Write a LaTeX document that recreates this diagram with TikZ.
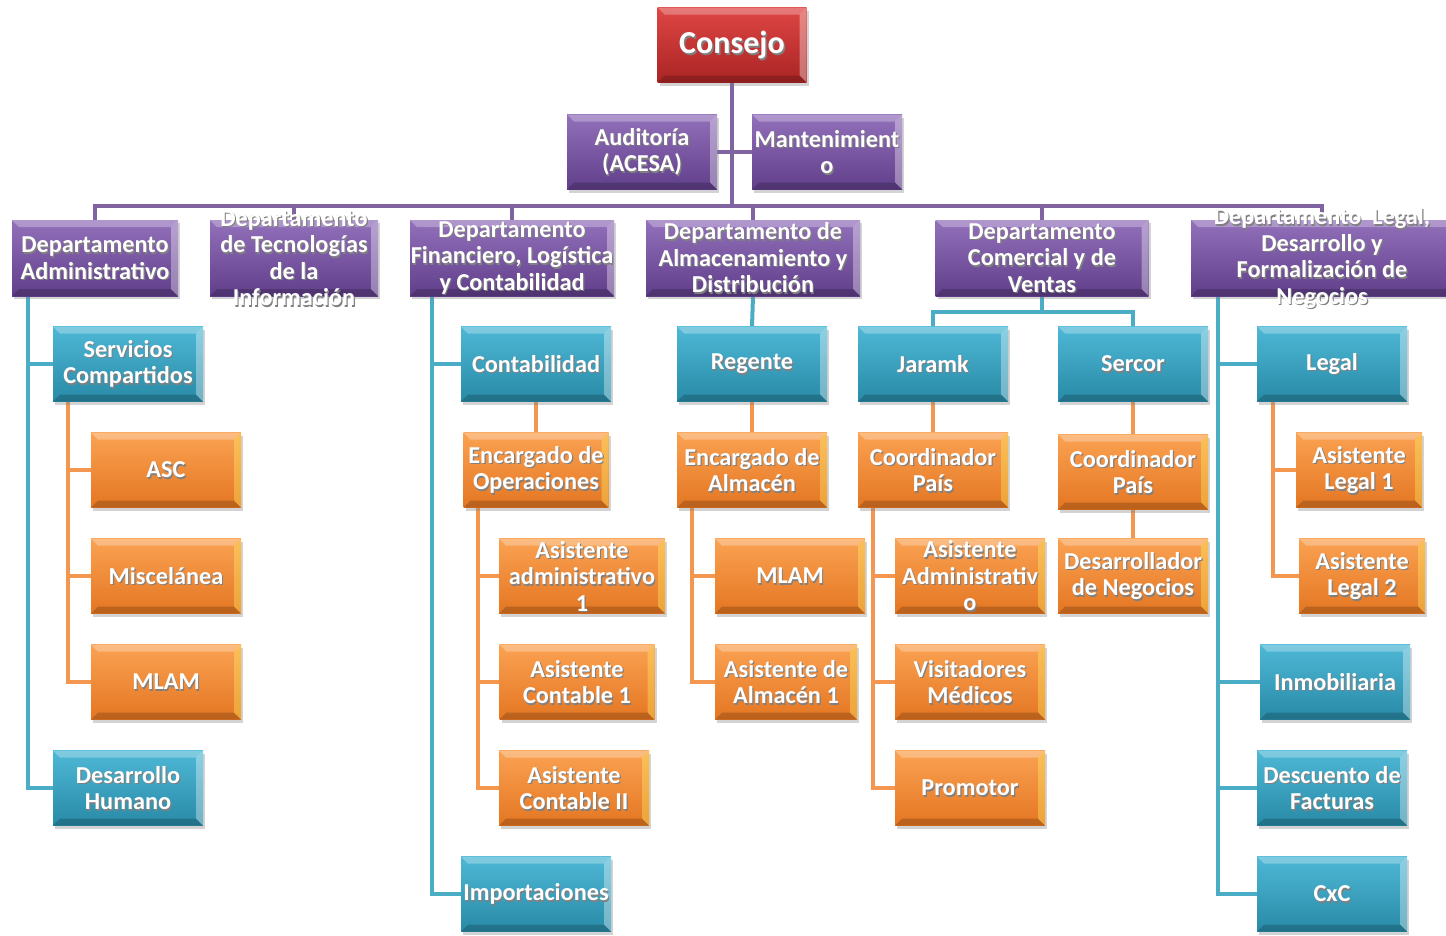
\documentclass[tikz,border=0pt]{standalone}
\usepackage{fontspec}
\setmainfont{Carlito}
\usetikzlibrary{shadows, positioning}
\pgfdeclarelayer{background}
\pgfsetlayers{background,main}
\definecolor{redtop}{RGB}{222, 70, 68}
\definecolor{redbot}{RGB}{170, 36, 36}
\definecolor{purtop}{RGB}{146, 112, 186}
\definecolor{purbot}{RGB}{96, 62, 138}
\definecolor{purline}{RGB}{128, 100, 162}
\definecolor{teatop}{RGB}{78, 184, 214}
\definecolor{teabot}{RGB}{40, 138, 166}
\definecolor{tealine}{RGB}{75, 172, 198}
\definecolor{orntop}{RGB}{250, 162, 82}
\definecolor{ornbot}{RGB}{228, 118, 34}
\definecolor{ornline}{RGB}{242, 150, 80}

\tikzset{
  bevel/.style={path picture={
    \fill[white, opacity=.28] (path picture bounding box.north west) -- (path picture bounding box.north east)
      -- ([shift={(-7pt,-7pt)}]path picture bounding box.north east) -- ([shift={(7pt,-7pt)}]path picture bounding box.north west) -- cycle;
    \fill[#1, opacity=.35] (path picture bounding box.north east) -- (path picture bounding box.south east)
      -- ([shift={(-7pt,7pt)}]path picture bounding box.south east) -- ([shift={(-7pt,-7pt)}]path picture bounding box.north east) -- cycle;
    \fill[black, opacity=.18] (path picture bounding box.south west) -- (path picture bounding box.south east)
      -- ([shift={(-7pt,7pt)}]path picture bounding box.south east) -- ([shift={(7pt,7pt)}]path picture bounding box.south west) -- cycle;
  }},
  unit/.style={rectangle, inner sep=0pt, minimum width=150pt, minimum height=75pt,
    drop shadow={shadow xshift=2pt, shadow yshift=-3pt, opacity=.35}},
  redbox/.style={unit, bevel=white, top color=redtop, bottom color=redbot},
  purbox/.style={unit, bevel=white, top color=purtop, bottom color=purbot},
  teabox/.style={unit, bevel=white, top color=teatop, bottom color=teabot},
  ornbox/.style={unit, bevel=yellow!60!white, top color=orntop, bottom color=ornbot},
  lbl/.style={text=white, align=center, inner sep=0pt, font=\bfseries\fontsize{24.3}{26.5}\selectfont},
  txt/.style={label={[lbl, text=black!50, xshift=1.2pt, yshift=-1.5pt]center:#1}, label={[lbl]center:#1}},
  plink/.style={draw=purline, line width=4pt},
  tlink/.style={draw=tealine, line width=4pt},
  olink/.style={draw=ornline, line width=4pt}
}

\begin{document}
\begin{tikzpicture}[x=1pt, y=-1pt]
  \useasboundingbox (0,0) rectangle (1446,935);

  % top of the chart
  \node[redbox, minimum width=149pt,
    label={[lbl, text=black!50, xshift=1.5pt, yshift=-2pt, font=\bfseries\fontsize{32}{36}\selectfont]center:Consejo},
    label={[lbl, font=\bfseries\fontsize{32}{36}\selectfont]center:Consejo}] (consejo) at (732,45) {};
  \node[purbox, txt={Auditoría\\(ACESA)}] (aud) at (642,152) {};
  \node[purbox, txt={Mantenimient\\o}] (mant) at (827,152) {};

  % departments
  \node[purbox, minimum width=166pt, minimum height=76pt, txt={Departamento\\Administrativo}] (admin) at (95,258) {};
  \node[purbox, minimum width=168pt, minimum height=76pt, txt={Departamento\\de Tecnologías\\de la\\Información}] (tec) at (294,258) {};
  \node[purbox, minimum width=204pt, minimum height=76pt, txt={Departamento\\Financiero, Logística\\y Contabilidad}] (fin) at (512,258) {};
  \node[purbox, minimum width=214pt, minimum height=76pt, txt={Departamento de\\Almacenamiento y\\Distribución}] (alm) at (753,258) {};
  \node[purbox, minimum width=213pt, minimum height=76pt, txt={Departamento\\Comercial y de\\Ventas}] (com) at (1042,258) {};
  \node[purbox, minimum width=262pt, minimum height=76pt, txt={Departamento\ \ Legal,\\Desarrollo y\\Formalización de\\Negocios}] (leg) at (1322,258) {};

  % areas
  \node[teabox, txt={Servicios\\Compartidos}] (serv) at (128,364) {};
  \node[teabox, txt={Desarrollo\\Humano}] (dh) at (128,788) {};
  \node[teabox, txt={Contabilidad}] (cont) at (536,364) {};
  \node[teabox, txt={Importaciones}] (imp) at (536,894) {};
  \node[teabox, txt={Regente}] (reg) at (752,364) {};
  \node[teabox, txt={Jaramk}] (jar) at (933,364) {};
  \node[teabox, txt={Sercor}] (ser) at (1133,364) {};
  \node[teabox, txt={Legal}] (legal) at (1332,364) {};
  \node[teabox, txt={Inmobiliaria}] (inmob) at (1335,682) {};
  \node[teabox, txt={Descuento de\\Facturas}] (desc) at (1332,788) {};
  \node[teabox, txt={CxC}] (cxc) at (1332,894) {};

  % staff
  \node[ornbox, txt={ASC}] (asc) at (166,470) {};
  \node[ornbox, txt={Miscelánea}] (misc) at (166,576) {};
  \node[ornbox, txt={MLAM}] (mlamA) at (166,682) {};
  \node[ornbox, minimum width=145pt, txt={Encargado de\\Operaciones}] (encop) at (536,470) {};
  \node[ornbox, minimum width=166pt, txt={Asistente\\administrativo\\1}] (asadm) at (582,576) {};
  \node[ornbox, minimum width=155pt, txt={Asistente\\Contable 1}] (ascA) at (577,682) {};
  \node[ornbox, txt={Asistente\\Contable II}] (ascB) at (574,788) {};
  \node[ornbox, txt={Encargado de\\Almacén}] (encalm) at (752,470) {};
  \node[ornbox, txt={MLAM}] (mlamB) at (790,576) {};
  \node[ornbox, minimum width=142pt, txt={Asistente de\\Almacén 1}] (asalm) at (786,682) {};
  \node[ornbox, txt={Coordinador\\País}] (coordA) at (933,470) {};
  \node[ornbox, txt={Asistente\\Administrativ\\o}] (asadmB) at (970,576) {};
  \node[ornbox, txt={Visitadores\\Médicos}] (visit) at (970,682) {};
  \node[ornbox, txt={Promotor}] (promo) at (970,788) {};
  \node[ornbox, txt={Coordinador\\País}] (coordB) at (1133,472) {};
  \node[ornbox, txt={Desarrollador\\de Negocios}] (desneg) at (1133,576) {};
  \node[ornbox, minimum width=126pt, txt={Asistente\\Legal 1}] (aslegA) at (1359,470) {};
  \node[ornbox, minimum width=126pt, txt={Asistente\\Legal 2}] (aslegB) at (1362,576) {};

  \begin{pgfonlayer}{background}
  % purple links
  \coordinate (bar) at (732,206);
  \draw[plink] (consejo.south) -- (bar);
  \draw[plink] (aud.east) -- (mant.west);
  \draw[plink] (admin.north) |- (bar) -| (leg.north);
  \foreach \d in {tec, fin, alm, com}
    \draw[plink] (\d.north |- bar) -- (\d.north);

  % teal links
  \foreach \a in {serv, dh}
    \draw[tlink] ([xshift=16pt]admin.south west) |- (\a.west);
  \foreach \a in {cont, imp}
    \draw[tlink] ([xshift=22pt]fin.south west) |- (\a.west);
  \draw[tlink] (alm.south) -- (reg.north);
  \foreach \a in {jar, ser}
    \draw[tlink] (com.south) -- ++(0,16) -| (\a.north);
  \foreach \a in {legal, inmob, desc, cxc}
    \draw[tlink] ([xshift=27pt]leg.south west) |- (\a.west);

  % orange links
  \foreach \s in {asc, misc, mlamA}
    \draw[olink] ([xshift=15pt]serv.south west) |- (\s.west);
  \draw[olink] (cont.south) -- (encop.north);
  \foreach \s in {asadm, ascA, ascB}
    \draw[olink] ([xshift=15pt]encop.south west) |- (\s.west);
  \draw[olink] (reg.south) -- (encalm.north);
  \foreach \s in {mlamB, asalm}
    \draw[olink] ([xshift=15pt]encalm.south west) |- (\s.west);
  \draw[olink] (jar.south) -- (coordA.north);
  \foreach \s in {asadmB, visit, promo}
    \draw[olink] ([xshift=15pt]coordA.south west) |- (\s.west);
  \draw[olink] (ser.south) -- (coordB.north);
  \draw[olink] (coordB.south) -- (desneg.north);
  \foreach \s in {aslegA, aslegB}
    \draw[olink] ([xshift=16pt]legal.south west) |- (\s.west);
  \end{pgfonlayer}
\end{tikzpicture}
\end{document}
